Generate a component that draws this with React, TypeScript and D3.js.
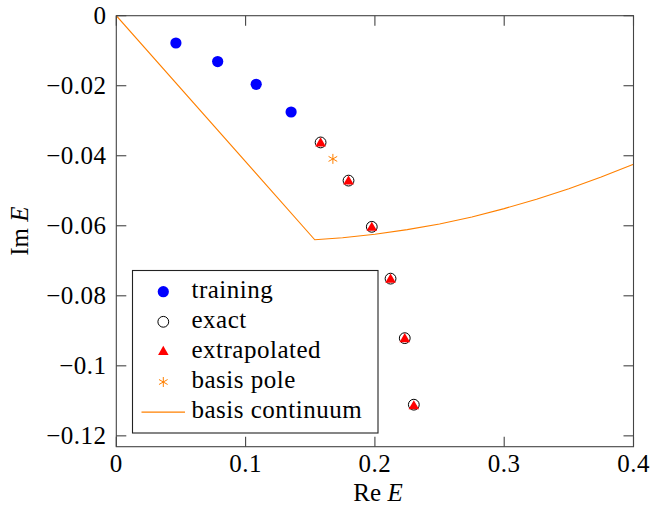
import React, { useEffect, useRef } from "react";
import * as d3 from "d3";

// values
const trainingRe = [0.0461, 0.0784, 0.1082, 0.1352];
const trainingIm = [-0.0078, -0.0131, -0.0196, -0.0275];

const exactRe = [0.158, 0.1796, 0.1976, 0.2121, 0.2231, 0.2301];
const exactIm = [-0.0362, -0.0471, -0.0603, -0.0751, -0.0921, -0.1111];

const extrapRe = [0.158, 0.1796, 0.1976, 0.2121, 0.2231, 0.2301];
const extrapIm = [-0.0363, -0.0472, -0.0604, -0.0752, -0.0922, -0.1114];

const poleRe = [0.1675];
const poleIm = [-0.0409];

const contRe = [0, 0.1535, 0.175, 0.2, 0.225, 0.25, 0.275, 0.3, 0.325, 0.35, 0.375, 0.4];
const contIm = [0, -0.064, -0.0634, -0.0624, -0.0611, -0.0595, -0.0575, -0.0551, -0.0524, -0.0494, -0.0461, -0.0424];

const xTicks = [0, 0.1, 0.2, 0.3, 0.4];
const yTicks = [0, -0.02, -0.04, -0.06, -0.08, -0.1, -0.12];

const legendLabels = ["training", "exact", "extrapolated", "basis pole", "basis continuum"];

const W = 650;
const H = 506;
const FONT = "Liberation Serif, DejaVu Serif, Times New Roman, serif";
const FS = 25;
const LS = 0.5;
const ORANGE = "#ff8000";

const App = () => {
  const svgRef = useRef<SVGSVGElement>(null);

  useEffect(() => {
    const svg = d3.select(svgRef.current);
    svg.selectAll("*").remove();

    const left = 116.3, right = 633.5, top = 15.7, bottom = 446.7;
    const x = d3.scaleLinear().domain([0, 0.4]).range([left, right]);
    const y = d3.scaleLinear().domain([-0.1231, 0]).range([bottom, top]);

    svg.append("defs").append("clipPath").attr("id", "plotclip")
      .append("rect").attr("x", left).attr("y", top)
      .attr("width", right - left).attr("height", bottom - top);

    const tick = 10;
    const axes = svg.append("g").attr("stroke", "#444").attr("stroke-width", 1.1);
    // ticks on all four sides, pointing inward
    xTicks.forEach(t => {
      axes.append("line").attr("x1", x(t)).attr("x2", x(t)).attr("y1", bottom).attr("y2", bottom - tick);
      axes.append("line").attr("x1", x(t)).attr("x2", x(t)).attr("y1", top).attr("y2", top + tick);
    });
    yTicks.forEach(t => {
      axes.append("line").attr("x1", left).attr("x2", left + tick).attr("y1", y(t)).attr("y2", y(t));
      axes.append("line").attr("x1", right).attr("x2", right - tick).attr("y1", y(t)).attr("y2", y(t));
    });

    // tick labels
    const fmt = (v: number) => (v === 0 ? "0" : String(v).replace("-", "\u2212"));
    svg.append("g").selectAll("text").data(xTicks).join("text")
      .attr("x", d => x(d)).attr("y", 471.5)
      .attr("text-anchor", "middle")
      .style("font-family", FONT).attr("font-size", FS).attr("letter-spacing", LS)
      .text(d => fmt(d));
    svg.append("g").selectAll("text").data(yTicks).join("text")
      .attr("x", 106.5).attr("y", d => y(d) + 8)
      .attr("text-anchor", "end")
      .style("font-family", FONT).attr("font-size", FS).attr("letter-spacing", LS)
      .text(d => fmt(d));

    // axis titles
    const xt = svg.append("text").attr("x", 378).attr("y", 500.5)
      .attr("text-anchor", "middle").style("font-family", FONT).attr("font-size", FS);
    xt.append("tspan").text("Re ");
    xt.append("tspan").attr("font-style", "italic").text("E");
    const yt = svg.append("text").attr("transform", `translate(27.5,${(top + bottom) / 2}) rotate(-90)`)
      .attr("text-anchor", "middle").style("font-family", FONT).attr("font-size", FS);
    yt.append("tspan").text("Im ");
    yt.append("tspan").attr("font-style", "italic").text("E");

    const plot = svg.append("g").attr("clip-path", "url(#plotclip)");

    // basis continuum
    const line = d3.line<number>().x(i => x(contRe[i])).y(i => y(contIm[i]));
    plot.append("path").attr("d", line(d3.range(contRe.length)))
      .attr("fill", "none").attr("stroke", ORANGE).attr("stroke-width", 1.1);

    // training
    plot.append("g").selectAll("circle").data(d3.range(trainingRe.length)).join("circle")
      .attr("cx", i => x(trainingRe[i])).attr("cy", i => y(trainingIm[i])).attr("r", 5.6)
      .attr("fill", "#0000ff");

    const tri = d3.symbol().type(d3.symbolTriangle).size(48);
    const star = (r: number) => {
      const a = [90, 30, -30].map(d => (d * Math.PI) / 180);
      return a.map(t => `M${-r * Math.cos(t)},${r * Math.sin(t)}L${r * Math.cos(t)},${-r * Math.sin(t)}`).join("");
    };

    // exact (open circles)
    plot.append("g").selectAll("circle").data(d3.range(exactRe.length)).join("circle")
      .attr("cx", i => x(exactRe[i])).attr("cy", i => y(exactIm[i])).attr("r", 5.4)
      .attr("fill", "none").attr("stroke", "#000").attr("stroke-width", 1);

    // extrapolated (triangles)
    plot.append("g").selectAll("path").data(d3.range(extrapRe.length)).join("path")
      .attr("transform", i => `translate(${x(extrapRe[i])},${y(extrapIm[i]) + 0.6})`)
      .attr("d", tri()).attr("fill", "#ff0000");

    // basis pole
    plot.append("g").selectAll("path").data(d3.range(poleRe.length)).join("path")
      .attr("transform", i => `translate(${x(poleRe[i])},${y(poleIm[i])})`)
      .attr("d", star(5)).attr("stroke", ORANGE).attr("stroke-width", 1).attr("fill", "none");

    // frame
    svg.append("rect").attr("x", left).attr("y", top).attr("width", right - left).attr("height", bottom - top)
      .attr("fill", "none").attr("stroke", "#444").attr("stroke-width", 1.1);

    // legend
    const lg = svg.append("g");
    lg.append("rect").attr("x", 132.5).attr("y", 270.5).attr("width", 245.5).attr("height", 162.5)
      .attr("fill", "#fff").attr("stroke", "#222").attr("stroke-width", 1.1);
    const rowY = (i: number) => 291.7 + i * 30.1;
    const mx = 163.3;
    lg.append("circle").attr("cx", mx).attr("cy", rowY(0)).attr("r", 5.6).attr("fill", "#0000ff");
    lg.append("circle").attr("cx", mx).attr("cy", rowY(1)).attr("r", 5.4)
      .attr("fill", "none").attr("stroke", "#000").attr("stroke-width", 1);
    lg.append("path").attr("transform", `translate(${mx},${rowY(2)})`).attr("d", tri()).attr("fill", "#ff0000");
    lg.append("path").attr("transform", `translate(${mx},${rowY(3)})`).attr("d", star(5))
      .attr("stroke", ORANGE).attr("stroke-width", 1).attr("fill", "none");
    lg.append("line").attr("x1", 141.5).attr("x2", 185).attr("y1", rowY(4)).attr("y2", rowY(4))
      .attr("stroke", ORANGE).attr("stroke-width", 1.1);
    lg.selectAll("text.lbl").data(legendLabels).join("text")
      .attr("class", "lbl")
      .attr("x", 191.5).attr("y", (d, i) => rowY(i) + 6)
      .style("font-family", FONT).attr("font-size", FS).attr("letter-spacing", LS)
      .text(d => d);
  }, []);

  return (
    <svg ref={svgRef} width={W} height={H}
      style={{ position: "absolute", left: 0, top: 0, background: "#fff" }} />
  );
};

export default App;
